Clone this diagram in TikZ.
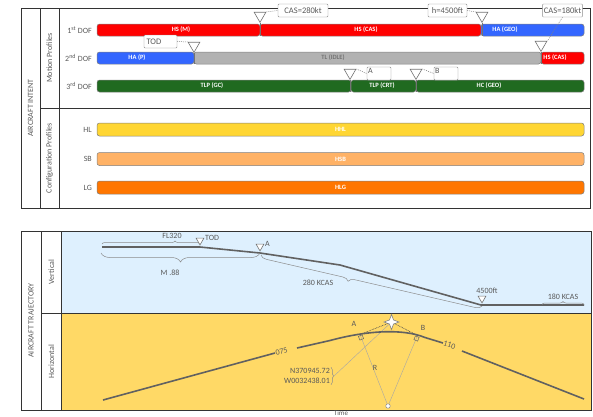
\documentclass[tikz,border=0pt]{standalone}
\usepackage{fontspec}
\setmainfont{Carlito}
\usepackage{tikz}
\usetikzlibrary{shapes.geometric,decorations.pathreplacing,calc}

\definecolor{dofred}{RGB}{255,0,0}
\definecolor{dofblue}{RGB}{51,102,255}
\definecolor{dofgray}{RGB}{178,178,178}
\definecolor{dofgreen}{RGB}{32,106,32}
\definecolor{cfgyellow}{RGB}{255,214,51}
\definecolor{cfgsand}{RGB}{255,178,102}
\definecolor{cfgorange}{RGB}{255,118,0}
\definecolor{vertbg}{RGB}{222,240,254}
\definecolor{horzbg}{RGB}{255,217,102}
\definecolor{txtgray}{RGB}{89,89,89}

\tikzset{
  panelline/.style={draw=black!80, line width=0.8pt},
  bar/.style={draw=black!50, line width=0.5pt, rounded corners=2.5pt, minimum height=12pt, inner sep=0pt},
  barlabel/.style={font=\fontsize{6.5}{7}\selectfont\bfseries, inner sep=0pt},
  lbl/.style={text=txtgray, font=\fontsize{8}{9}\selectfont, inner sep=1pt},
  tri/.style={regular polygon, regular polygon sides=3, shape border rotate=180, draw=black!55, fill=white, line width=0.6pt, minimum size=13.5pt, inner sep=0pt},
  flagbox/.style={draw=black!45, fill=white, rounded corners=1pt, minimum height=13pt, inner sep=1.5pt, text=txtgray, font=\fontsize{8.5}{9}\selectfont},
  lead/.style={draw=black!50, line width=0.5pt, dash pattern=on 1pt off 1pt},
  drop/.style={draw=black!55, line width=0.5pt},
  traj/.style={draw=black!62, line width=1.6pt, line join=round},
  thinline/.style={draw=black!35, line width=0.4pt},
  tangent/.style={draw=black!70, line width=0.6pt, dash pattern=on 0.8pt off 0.8pt},
  brc/.style 2 args={draw=black!45, line width=0.5pt, decorate, decoration={brace, amplitude=#1, aspect=#2}},
}

\begin{document}
\begin{tikzpicture}[x=1pt, y=-1pt]
    \useasboundingbox (0,0) rectangle (593,416);

    % Aircraft intent frame
    \draw[panelline] (21,8) rectangle (590,208);
    \draw[panelline] (40,8) -- (40,208);
    \draw[panelline] (59,8) -- (59,208);
    \draw[panelline] (40,108) -- (590,108);
    \node[lbl, rotate=90] (intent) at (30.5,108) {AIRCRAFT INTENT};
    \node[lbl, rotate=90] (motion) at (49.5,58) {Motion Profiles};
    \node[lbl, rotate=90] (config) at (49.5,158) {Configuration Profiles};

    % DOF row labels
    \node[lbl, anchor=east] (dof1) at (93,30) {1\textsuperscript{st} DOF};
    \node[lbl, anchor=east] (dof2) at (93,58) {2\textsuperscript{nd} DOF};
    \node[lbl, anchor=east] (dof3) at (93,86) {3\textsuperscript{rd} DOF};

    % Motion profile segments
    \foreach \nm/\cx/\segw/\cy/\segcol/\txtcol/\lx/\segtxt in {
        hsm/178.5/163/30/dofred/white/181/HS (M),
        hscasa/370.5/221/30/dofred/white/366/HS (CAS),
        hageo/532.5/103/30/dofblue/white/505/HA (GEO),
        hap/145.5/97/58/dofblue/white/137/HA (P),
        tlidle/367.5/347/58/dofgray/black!55/333/TL (IDLE),
        hscasb/562.5/43/58/dofred/white/555/HS (CAS),
        tlpgc/224/254/86/dofgreen/white/212/TLP (GC),
        tlpcrt/383.5/65/86/dofgreen/white/382/TLP (CRT),
        hcgeo/500/168/86/dofgreen/white/489/HC (GEO)} {
        \node[bar, fill=\segcol, minimum width=\segw pt] (\nm) at (\cx,\cy) {};
        \node[barlabel, text=\txtcol] (\nm-txt) at (\lx,\cy) {\segtxt};
    }

    % Switching markers
    \foreach \m/\ax/\ay/\seg in {m1/260/23/hsm, m2/482/23/hageo, m3/541/52/hscasb,
        m4/194/53/tlidle, m5/350/80/tlpcrt, m6/416/80/hcgeo} {
        \draw[drop] (\ax,\ay) -- (\ax,\ay |- \seg.south);
        \node[tri, anchor=corner 1] (\m) at (\ax,\ay) {};
    }

    % Marker flags
    \node[flagbox, minimum width=50pt] (f1) at (303,10.5) {CAS=280kt};
    \node[flagbox, minimum width=39pt] (f2) at (447.5,10.5) {h=4500ft};
    \node[flagbox, minimum width=39pt] (f3) at (562.5,10.5) {CAS=180kt};
    \node[flagbox, minimum width=33pt, text width=28pt, align=left] (f4) at (160.5,41.5) {TOD};
    \node[flagbox, minimum width=24pt, label={[lbl, anchor=north west]north west:A}] (f5) at (379,73.5) {};
    \node[flagbox, minimum width=24pt, label={[lbl, anchor=north west]north west:B}] (f6) at (446,73.5) {};
    \draw[lead] (m1.corner 2) -- (f1.west);
    \draw[lead] (f2.east) -- (m2.corner 3);
    \draw[lead] (f3.south) -- (m3.corner 2);
    \draw[lead] (f4.east) -- (m4.corner 3);
    \draw[lead] (m5.corner 2) -- (f5.west);
    \draw[lead] (m6.corner 2) -- (f6.west);

    % Configuration profiles
    \foreach \nm/\cy/\segcol/\segtxt/\cfgname in {hl/129.5/cfgyellow/HHL/HL,
        sb/159/cfgsand/HSB/SB, lg/187.5/cfgorange/HLG/LG} {
        \node[bar, fill=\segcol, minimum width=487pt, minimum height=13pt] (\nm) at (340.5,\cy) {};
        \node[barlabel, text=white] (\nm-txt) at (\nm) {\segtxt};
        \node[lbl, anchor=east] (\nm-side) at (93,\cy) {\cfgname};
    }

    % Aircraft trajectory frame
    \fill[vertbg] (61.5,231) rectangle (591,313);
    \fill[horzbg] (61.5,313) rectangle (591,410);
    \draw[panelline] (21,231) rectangle (591,410);
    \draw[panelline] (41.5,231) -- (41.5,410);
    \draw[panelline] (61.5,231) -- (61.5,410);
    \draw[panelline] (41.5,313) -- (591,313);
    \node[lbl, rotate=90] (traject) at (31,320.5) {AIRCRAFT TRAJECTORY};
    \node[lbl, rotate=90] (vert) at (51.5,272) {Vertical};
    \node[lbl, rotate=90] (horz) at (51.5,361.5) {Horizontal};

    % Vertical profile
    \coordinate (v0) at (102,247);
    \coordinate (vtod) at (200,247);
    \coordinate (va) at (260,253);
    \coordinate (vbrk) at (340,265);
    \coordinate (v4500) at (481,305);
    \coordinate (vend) at (584,305);
    \draw[traj] (v0) -- (vtod) -- (va) -- (vbrk) -- (v4500) -- (vend);

    \draw[brc={3pt}{0.745}] (102,244) -- (200,244);
    \node[lbl] (fl) at (172,235.5) {FL320};
    \draw[brc={9pt}{0.5}] (260,253) -- (101,253);
    \node[lbl] (mach) at (170,273) {M .88};
    \draw[brc={6pt}{0.6}] (482,306) -- (261,255);
    \node[lbl] (kcas280) at (318,283) {280 KCAS};
    \draw[brc={3pt}{0.5}] (542,304.5) -- (584,304.5);
    \node[lbl] (kcas180) at (563,297) {180 KCAS};

    \node[tri, minimum size=9pt, anchor=corner 1] (vtri-tod) at (200,245.5) {};
    \node[lbl, anchor=west, inner sep=0.5pt] (vtod-txt) at (vtri-tod.corner 2) {TOD};
    \node[tri, minimum size=9pt, anchor=corner 1] (vtri-a) at (260,251.5) {};
    \node[lbl, anchor=west, inner sep=0.5pt] (va-txt) at (vtri-a.corner 2) {A};
    \node[tri, minimum size=9pt, anchor=corner 1] (vtri-4500) at (482,303.5) {};
    \node[lbl] (v4500-txt) at (487,291) {4500ft};

    % Horizontal profile
    \coordinate (h1s) at (103,400);
    \coordinate (h1e) at (275,353);
    \coordinate (h2s) at (297,348);
    \coordinate (h2e) at (443,343);
    \coordinate (h3s) at (462,351);
    \coordinate (h3e) at (584,399);
    \coordinate (afoot) at (360,334.5);
    \coordinate (bfoot) at (417.5,335.5);

    \node[circle, draw=black!45, fill=white, line width=0.5pt, minimum size=4.5pt, inner sep=0pt] (ctr) at (388,406) {};
    \node[star, star points=4, star point ratio=2.6, draw=black!50, fill=white, line width=0.6pt, minimum size=15pt, inner sep=0pt] (wp) at (391.5,322) {};
    \node[lbl, align=right, anchor=east, font=\fontsize{8}{10}\selectfont] (wpt) at (331,376) {N370945.72\\W0032438.01};
    \draw[brc={2.5pt}{0.5}] (wpt.north east) -- (wpt.south east);
    \coordinate (wtip) at ($(wpt.east)+(3,0)$);

    \draw[thinline] (ctr) -- (afoot);
    \draw[thinline] (ctr) -- (bfoot);
    \draw[thinline] (wtip) -- (wp);
    \draw[tangent] (wp) -- (afoot);
    \draw[tangent] (wp) -- (bfoot);
    \draw[traj] (h1s) -- (h1e);
    \draw[traj] (h2s) -- (330,340.5) .. controls (365,331) and (402,328) .. (425,337.5) -- (h2e);
    \draw[traj] (h3s) -- (h3e);

    \node[draw=black!60, line width=0.5pt, minimum size=4pt, inner sep=0pt, rotate=21.5] (sqa) at (361,337.5) {};
    \node[draw=black!60, line width=0.5pt, minimum size=4pt, inner sep=0pt, rotate=-22.5] (sqb) at (416.5,338.5) {};

    \node[lbl] (ha) at (354,324) {A};
    \node[lbl] (hb) at (423,328) {B};
    \node[lbl] (rad) at (375,368) {R};
    \node[lbl, rotate=15, anchor=west, inner sep=0.5pt] (hdg1) at (h1e) {075};
    \node[lbl, rotate=-17, anchor=west, inner sep=0.5pt] (hdg2) at (h2e) {110};
    \node[lbl, inner sep=0pt, font=\fontsize{7}{8}\selectfont] (time) at (341,412.8) {Time};
\end{tikzpicture}
\end{document}
